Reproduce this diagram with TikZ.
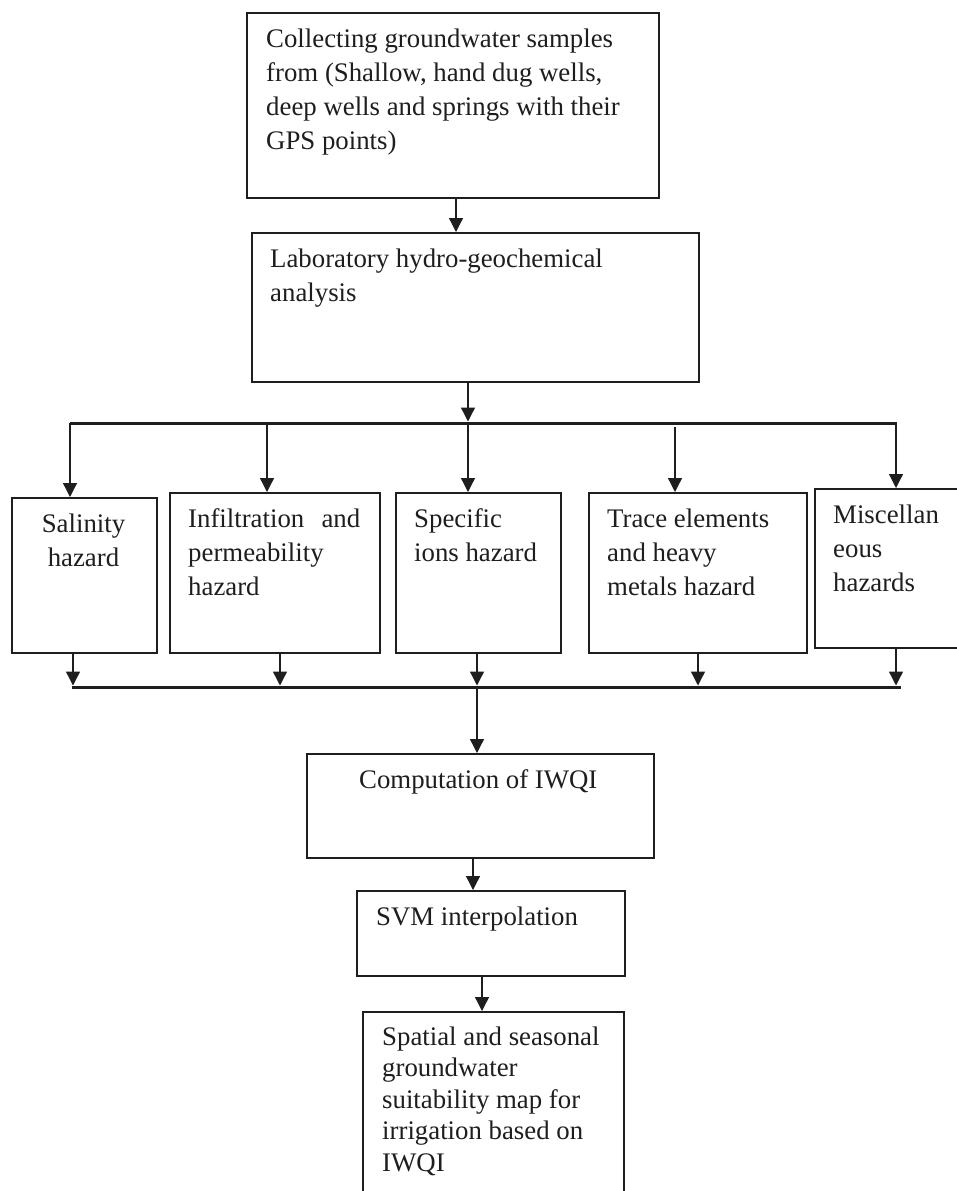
\documentclass[tikz,border=0pt]{standalone}
\usepackage{fontspec}
\setmainfont{Liberation Serif}
\usetikzlibrary{arrows.meta}
\definecolor{ink}{HTML}{1E1E1E}
\newcommand{\ltxt}[1]{\begin{tabular}[t]{@{}l@{}}#1\end{tabular}}
\newcommand{\ctxt}[1]{\begin{tabular}[t]{@{}c@{}}#1\end{tabular}}
\begin{document}
\begin{tikzpicture}[x=1pt,y=-1pt,
  box/.style={draw=ink, line width=1.5pt, inner sep=0pt, anchor=north west, fill=white},
  lbl/.style={inner sep=0pt, anchor=base west, text=ink, font=\fontsize{26.8}{34}\selectfont},
  clbl/.style={lbl, anchor=base},
  arr/.style={draw=ink, line width=1.3pt, -{Triangle[length=14pt,width=14pt]}},
  bar/.style={draw=ink, line width=3pt}]
\useasboundingbox (0,0) rectangle (957,1191);
\clip (0,0) rectangle (957,1191);
\fill[white] (0,0) rectangle (957,1191);

% boxes
\node[box, minimum width=412pt, minimum height=185pt] (b1) at (246,12) {};
\node[box, minimum width=447pt, minimum height=149pt] (b2) at (251,232) {};
\node[box, minimum width=145pt, minimum height=155pt] (s1) at (11,497) {};
\node[box, minimum width=210pt, minimum height=160pt] (s2) at (169,492) {};
\node[box, minimum width=165pt, minimum height=160pt] (s3) at (395,492) {};
\node[box, minimum width=218pt, minimum height=160pt] (s4) at (588,492) {};
\node[box, minimum width=160pt, minimum height=159pt] (s5) at (814,488) {};
\node[box, minimum width=347pt, minimum height=104pt] (c1) at (306,753) {};
\node[box, minimum width=268pt, minimum height=85pt] (v1) at (356,890) {};
\node[box, minimum width=261pt, minimum height=200pt] (f1) at (362,1011) {};

% texts
\node[lbl] (tb1) at (266,47) {\ltxt{Collecting groundwater samples\\from (Shallow, hand dug wells,\\deep wells and springs with their\\GPS points)}};
\node[lbl] (tb2) at (270,267) {\ltxt{Laboratory hydro-geochemical\\analysis}};
\node[clbl] (ts1) at (83.5,532) {\ctxt{Salinity\\hazard}};
\node[lbl] (ts2) at (188,527) {\ltxt{\makebox[172pt][s]{Infiltration and}\\permeability\\hazard}};
\node[lbl] (ts3) at (414,527) {\ltxt{Specific\\ions hazard}};
\node[lbl] (ts4) at (607,527) {\ltxt{Trace elements\\and heavy\\metals hazard}};
\node[lbl] (ts5) at (833,523) {\ltxt{Miscellan\\eous\\hazards}};
\node[lbl] (tc1) at (359,788) {Computation of IWQI};
\node[lbl] (tv1) at (376,925) {SVM interpolation};
\node[lbl, font=\fontsize{26.8}{31.5}\selectfont] (tf1) at (382,1045) {\ltxt{Spatial and seasonal\\groundwater\\suitability map for\\irrigation based on\\IWQI}};

% bars
\coordinate (bl1) at (70,423);
\coordinate (br1) at (897,423);
\coordinate (bl2) at (72,687);
\coordinate (br2) at (901,687);
\draw[bar] (bl1) -- (br1);
\draw[bar] (bl2) -- (br2);

% arrow x positions
\coordinate (xa) at (456,0);
\coordinate (xb) at (468,0);
\coordinate (d1) at (70,0);
\coordinate (d2) at (267,0);
\coordinate (d3) at (468,0);
\coordinate (d4) at (675,0);
\coordinate (d5) at (896,0);
\coordinate (u1) at (73,0);
\coordinate (u2) at (280,0);
\coordinate (u3) at (477,0);
\coordinate (u4) at (698,0);
\coordinate (u5) at (896,0);
\coordinate (xc) at (473,0);
\coordinate (xd) at (482,0);

% connectors
\draw[arr] (b1.south -| xa) -- (b2.north -| xa);
\draw[arr] (b2.south -| xb) -- ([yshift=1.5pt]xb |- bl1);
\draw[arr] (d1 |- bl1) -- (s1.north -| d1);
\draw[arr] (d2 |- bl1) -- (s2.north -| d2);
\draw[arr] (d3 |- bl1) -- (s3.north -| d3);
\draw[arr] ([yshift=-4pt]d4 |- bl1) -- (s4.north -| d4);
\draw[arr] (d5 |- bl1) -- (s5.north -| d5);
\draw[arr] (s1.south -| u1) -- ([yshift=1.5pt]u1 |- bl2);
\draw[arr] (s2.south -| u2) -- ([yshift=1.5pt]u2 |- bl2);
\draw[arr] (s3.south -| u3) -- ([yshift=1.5pt]u3 |- bl2);
\draw[arr] (s4.south -| u4) -- ([yshift=1.5pt]u4 |- bl2);
\draw[arr] (s5.south -| u5) -- ([yshift=1.5pt]u5 |- bl2);
\draw[arr] (u3 |- bl2) -- (c1.north -| u3);
\draw[arr] (c1.south -| xc) -- (v1.north -| xc);
\draw[arr] (v1.south -| xd) -- (f1.north -| xd);
\end{tikzpicture}
\end{document}
